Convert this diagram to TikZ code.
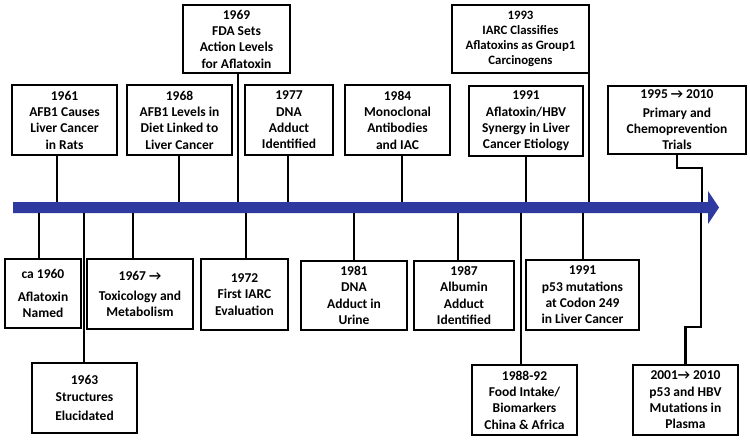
\documentclass[tikz,border=0pt]{standalone}
\usepackage{fontspec}
\setmainfont{Carlito}
\definecolor{barblue}{RGB}{46,58,160}

\begin{document}
\begin{tikzpicture}[x=1pt,y=-1pt,
    event/.style={draw,line width=1.8pt,align=center,inner sep=0pt,
      font=\bfseries\fontsize{13.5}{16.3}\selectfont},
    link/.style={line width=2.2pt}]
      \useasboundingbox (0,0) rectangle (750,440);

      % the time line
      \fill[barblue] (13,202) -- (708,202) -- (708,191) -- (719,207.5)
        -- (708,224) -- (708,213) -- (13,213) -- cycle;
      \coordinate (bartop) at (0,202);
      \coordinate (barbot) at (0,213);

      % events above the line
      \node[event,minimum width=105pt,minimum height=70pt] (y61) at (64.5,120) {1961\\AFB1 Causes\\Liver Cancer\\in Rats};
      \node[event,minimum width=105pt,minimum height=70pt] (y68) at (179.5,120) {1968\\AFB1 Levels in\\Diet Linked to\\Liver Cancer};
      \node[event,minimum width=107pt,minimum height=68pt] (y69) at (236.5,39) {1969\\FDA Sets\\Action Levels\\for Aflatoxin};
      \node[event,minimum width=88pt,minimum height=70pt] (y77) at (289,120) {1977\\DNA\\Adduct\\Identified};
      \node[event,minimum width=105pt,minimum height=70pt] (y84) at (397.5,120) {1984\\Monoclonal\\Antibodies\\and IAC};
      \node[event,minimum width=137pt,minimum height=68pt,font=\bfseries\fontsize{12.8}{15}\selectfont] (y93) at (520.5,39) {1993\\IARC Classifies\\Aflatoxins as Group1\\Carcinogens};
      \node[event,minimum width=114pt,minimum height=70pt] (y91a) at (526,121) {1991\\Aflatoxin/HBV\\Synergy in Liver\\Cancer Etiology};
      \node[event,minimum width=138pt,minimum height=68pt] (y95) at (677,120) {1995 → 2010\\[2pt]Primary and\\Chemoprevention\\Trials};

      % events below the line
      \node[event,minimum width=76pt,minimum height=69pt] (y60) at (43,293.5) {ca 1960\\[7pt]Aflatoxin\\Named};
      \node[event,minimum width=105pt,minimum height=70pt] (y63) at (84.5,398) {1963\\Structures\\[3pt]Elucidated};
      \node[event,minimum width=106pt,minimum height=70pt] (y67) at (140,294) {1967 →\\[3pt]Toxicology and\\Metabolism};
      \node[event,minimum width=87pt,minimum height=71pt] (y72) at (244.5,294.5) {1972\\First IARC\\Evaluation};
      \node[event,minimum width=106pt,minimum height=69pt] (y81) at (354,295.5) {1981\\DNA\\Adduct in\\Urine};
      \node[event,minimum width=100pt,minimum height=69pt] (y87) at (464,295.5) {1987\\Albumin\\Adduct\\Identified};
      \node[event,minimum width=105pt,minimum height=70pt] (y88) at (524.5,400) {1988-92\\Food Intake/\\Biomarkers\\China \& Africa};
      \node[event,minimum width=113pt,minimum height=70pt] (y91b) at (582.5,295) {1991\\p53 mutations\\at Codon 249\\in Liver Cancer};
      \node[event,minimum width=105pt,minimum height=70pt] (y01) at (685.5,400) {2001→ 2010\\p53 and HBV\\Mutations in\\Plasma};

      % connectors
      \foreach \n/\x in {y61/57,y68/179,y69/238,y77/288,y84/402,y91a/526,y93/589} {
        \draw[link] (\n.south -| \x,0) -- (\x,0 |- bartop);
      }
      \foreach \n/\x in {y60/39,y63/84,y67/133,y72/246,y81/354,y87/458,y88/521,y91b/583} {
        \draw[link] (\x,0 |- barbot) -- (\n.north -| \x,0);
      }
      \draw[link] (y95.south) -- ++(0,13) -| (702,0 |- bartop);
      \draw[link] (y01.north) -- ++(0,-37) -| (701,0 |- barbot);

    \end{tikzpicture}
\end{document}
